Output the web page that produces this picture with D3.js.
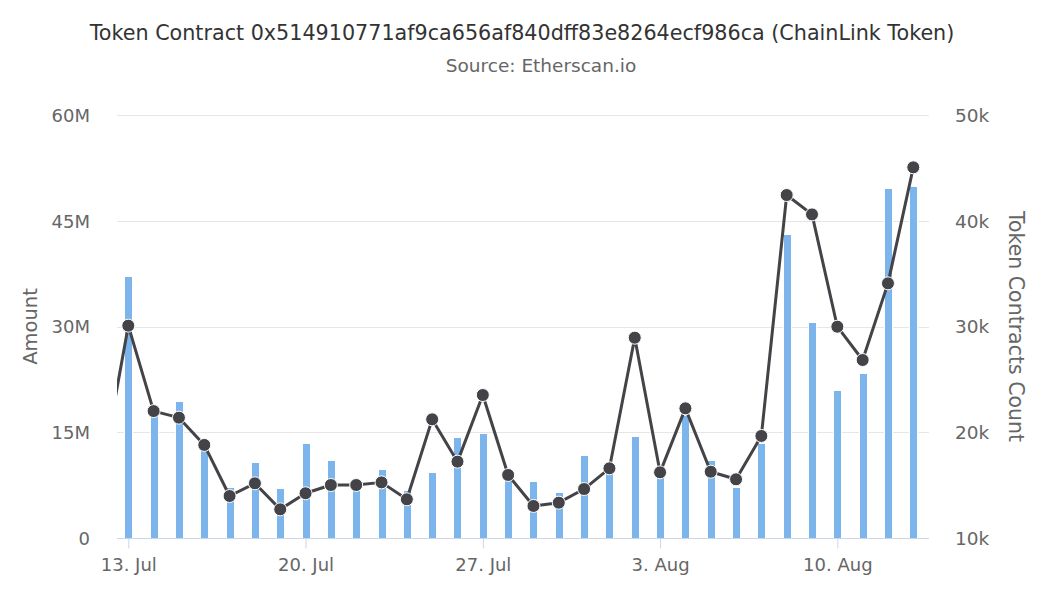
<!DOCTYPE html>
<html>
<head>
<meta charset="utf-8">
<script src="https://cdn.jsdelivr.net/npm/d3@7"></script>
<style>
  html, body { margin: 0; padding: 0; background: #fff; }
  svg { display: block; font-family: "DejaVu Sans", sans-serif; }
</style>
</head>
<body>
<svg id="chart" width="1045" height="593"></svg>
<script>
// ---- data ----
const dates = [
  "2020-07-12","2020-07-13","2020-07-14","2020-07-15","2020-07-16","2020-07-17","2020-07-18",
  "2020-07-19","2020-07-20","2020-07-21","2020-07-22","2020-07-23","2020-07-24","2020-07-25",
  "2020-07-26","2020-07-27","2020-07-28","2020-07-29","2020-07-30","2020-07-31","2020-08-01",
  "2020-08-02","2020-08-03","2020-08-04","2020-08-05","2020-08-06","2020-08-07","2020-08-08",
  "2020-08-09","2020-08-10","2020-08-11","2020-08-12","2020-08-13"
];
const amounts = [
  null, 37.1e6, 18.0e6, 19.5e6, 12.5e6, 7.3e6, 10.8e6,
  7.05e6, 13.5e6, 11.06e6, 7.2e6, 9.8e6, 6.8e6, 9.3e6,
  14.3e6, 14.85e6, 8.5e6, 8.09e6, 6.57e6, 11.77e6, 9.5e6,
  14.5e6, 8.8e6, 17.5e6, 11.06e6, 7.28e6, 13.5e6, 43.07e6,
  30.7e6, 21.0e6, 23.45e6, 49.7e6, 50.0e6
];
const counts = [
  16800, 30080, 22000, 21380, 18800, 13970, 15170,
  12710, 14230, 15010, 15010, 15260, 13660, 21220,
  17220, 23520, 15960, 13030, 13340, 14630, 16590,
  28940, 16210, 22260, 16270, 15550, 19650, 42430,
  40600, 29980, 26830, 34080, 45050
];
const xTickDates = ["2020-07-13","2020-07-20","2020-07-27","2020-08-03","2020-08-10"];
const leftTicks = [0, 15e6, 30e6, 45e6, 60e6];
const leftTickLabels = ["0", "15M", "30M", "45M", "60M"];
const rightTicks = [10000, 20000, 30000, 40000, 50000];
const rightTickLabels = ["10k", "20k", "30k", "40k", "50k"];
const titleText = "Token Contract 0x514910771af9ca656af840dff83e8264ecf986ca (ChainLink Token)";
const subtitleText = "Source: Etherscan.io";
const leftTitle = "Amount";
const rightTitle = "Token Contracts Count";

// ---- layout ----
const W = 1045, H = 593;
const plot = { left: 117, right: 929, top: 115, bottom: 538 };
const DAY = 86400000;
const parse = d3.utcParse("%Y-%m-%d");
const data = dates.map((d, i) => ({ date: parse(d), amount: amounts[i], count: counts[i] }));

const x = d3.scaleUtc()
  .domain([new Date(parse("2020-07-13").getTime() - 0.446 * DAY),
           new Date(parse("2020-08-13").getTime() + 0.62 * DAY)])
  .range([plot.left, plot.right]);
const yL = d3.scaleLinear().domain([0, 60e6]).range([plot.bottom, plot.top]);
const yR = d3.scaleLinear().domain([10000, 50000]).range([plot.bottom, plot.top]);

const svg = d3.select("#chart");
const gray = "#666666";

// clip
svg.append("defs").append("clipPath").attr("id", "plotclip")
  .append("rect")
  .attr("x", plot.left).attr("y", plot.top - 10)
  .attr("width", plot.right - plot.left).attr("height", plot.bottom - plot.top + 20);

// title
svg.append("text").attr("x", 522).attr("y", 40)
  .attr("text-anchor", "middle").attr("fill", "#333333")
  .style("font-size", "20.7px").text(titleText);
svg.append("text").attr("x", 541).attr("y", 72)
  .attr("text-anchor", "middle").attr("fill", gray)
  .style("font-size", "18.5px").text(subtitleText);

// gridlines
svg.append("g").selectAll("line").data(leftTicks).join("line")
  .attr("x1", plot.left).attr("x2", plot.right)
  .attr("y1", d => Math.round(yL(d)) + 0.5).attr("y2", d => Math.round(yL(d)) + 0.5)
  .attr("stroke", "#e6e6e6").attr("stroke-width", 1);

// left axis
const leftAxis = d3.axisLeft(yL).tickValues(leftTicks)
  .tickFormat((d, i) => leftTickLabels[i]).tickSize(0).tickPadding(0);
const gL = svg.append("g").attr("transform", `translate(${plot.left - 27},0)`).call(leftAxis);
gL.select(".domain").remove();
gL.selectAll("text").attr("fill", gray).style("font-size", "18px")
  .attr("font-family", "DejaVu Sans").attr("dy", "0.35em");

// right axis
const rightAxis = d3.axisRight(yR).tickValues(rightTicks)
  .tickFormat((d, i) => rightTickLabels[i]).tickSize(0).tickPadding(0);
const gR = svg.append("g").attr("transform", `translate(${plot.right + 26},0)`).call(rightAxis);
gR.select(".domain").remove();
gR.selectAll("text").attr("fill", gray).style("font-size", "18.5px")
  .attr("font-family", "DejaVu Sans").attr("dy", "0.35em");

// axis titles
svg.append("text")
  .attr("transform", `translate(37,${(plot.top + plot.bottom) / 2}) rotate(-90)`)
  .attr("text-anchor", "middle").attr("fill", gray)
  .style("font-size", "19.5px").text(leftTitle);
svg.append("text")
  .attr("transform", `translate(1009,${(plot.top + plot.bottom) / 2}) rotate(90)`)
  .attr("text-anchor", "middle").attr("fill", gray)
  .style("font-size", "20.5px").text(rightTitle);

// bars
const dayPx = x(parse("2020-07-14")) - x(parse("2020-07-13"));
const barW = Math.round(dayPx * 0.3);
svg.append("g").attr("clip-path", "url(#plotclip)")
  .selectAll("rect").data(data.filter(d => d.amount != null)).join("rect")
  .attr("x", d => Math.round(x(d.date) - barW / 2) + 0.5)
  .attr("y", d => Math.round(yL(d.amount)) + 0.5)
  .attr("width", barW)
  .attr("height", d => Math.max(0, Math.round(yL(0)) - Math.round(yL(d.amount))))
  .attr("fill", "#7cb5ec").attr("stroke", "#ffffff").attr("stroke-width", 1);

// x axis
const xAxis = d3.axisBottom(x)
  .tickValues(xTickDates.map(parse))
  .tickFormat(d3.utcFormat("%-d. %b"))
  .tickSize(10).tickPadding(10);
const gX = svg.append("g").attr("transform", `translate(0,${plot.bottom + 0.5})`).call(xAxis);
gX.select(".domain").attr("d", `M${plot.left},0H${plot.right}`).attr("stroke", "#ccd6eb");
gX.selectAll(".tick line").attr("stroke", "#ccd6eb");
gX.selectAll("text").attr("fill", gray).style("font-size", "18px")
  .attr("font-family", "DejaVu Sans");

// line + markers
const line = d3.line().x(d => x(d.date)).y(d => yR(d.count));
const gLine = svg.append("g").attr("clip-path", "url(#plotclip)");
gLine.append("path").datum(data).attr("d", line)
  .attr("fill", "none").attr("stroke", "#434348").attr("stroke-width", 3)
  .attr("stroke-linejoin", "round").attr("stroke-linecap", "round");
gLine.selectAll("circle").data(data).join("circle")
  .attr("cx", d => x(d.date)).attr("cy", d => yR(d.count)).attr("r", 6.5)
  .attr("fill", "#434348").attr("stroke", "#ffffff").attr("stroke-width", 1);
</script>
</body>
</html>
